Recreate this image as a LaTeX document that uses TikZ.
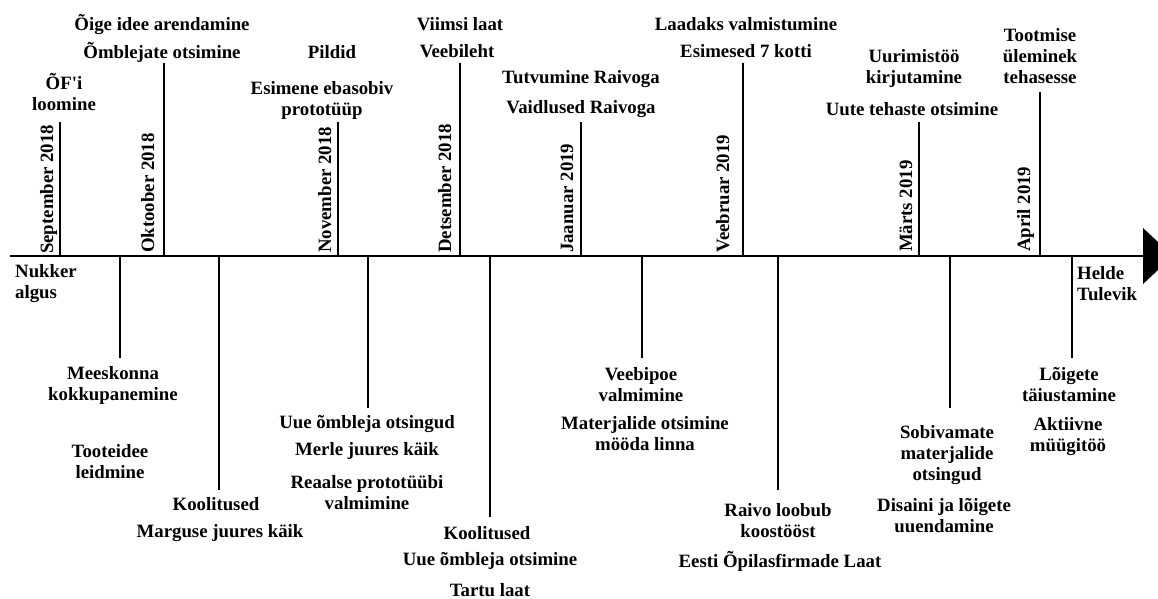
\documentclass[tikz,border=0pt]{standalone}
\usepackage{fontspec}
\setmainfont{Liberation Serif}
\begin{document}
\begin{tikzpicture}[x=1pt,y=-1pt,
  lbl/.style={font=\bfseries\fontsize{18.8}{21}\selectfont, align=center, inner sep=0pt},
  lbll/.style={font=\bfseries\fontsize{18.8}{21}\selectfont, align=left, inner sep=0pt, anchor=west},
  month/.style={font=\bfseries\fontsize{18.8}{21}\selectfont, rotate=90, anchor=base west, inner sep=0pt},
  tick/.style={line width=2pt},
  axisline/.style={line width=2pt}]
\useasboundingbox (0,0) rectangle (1158,599);
\clip (0,0) rectangle (1158,599);
\fill[white] (0,0) rectangle (1158,599);

% axis
\coordinate (a0) at (10,256);
\coordinate (a1) at (1145,256);
\draw[axisline] (a0) -- (a1);
\fill (1143,228) -- (1143,284) -- (1173,256) -- cycle;

% month ticks (up)
\foreach \n/\x/\t in {sep/60/122, okt/164/63, nov/338/122, dets/460/63, jaan/581/122, veeb/743/63, marts/919/122, apr/1040/92}{
  \coordinate (\n b) at (\x,256);
  \coordinate (\n t) at (\x,\t);
  \draw[tick] (\n b) -- (\n t);
}
% event ticks (down)
\foreach \n/\x/\t in {d1/120/358, d2/219/490, d3/368/408, d4/490/517, d5/642/358, d6/778/490, d7/950/408, d8/1072/358}{
  \coordinate (\n a) at (\x,256);
  \coordinate (\n e) at (\x,\t);
  \draw[tick] (\n a) -- (\n e);
}

% month labels
\node[month] (msep) at (53,254) {September 2018};
\node[month] (mokt) at (154,253) {Oktoober 2018};
\node[month] (mnov) at (331,253) {November 2018};
\node[month] (mdets) at (451,253) {Detsember 2018};
\node[month] (mjaan) at (573,253) {Jaanuar 2019};
\node[month] (mveeb) at (729,253) {Veebruar 2019};
\node[month] (mmarts) at (912,252) {Märts 2019};
\node[month] (mapr) at (1030,252) {April 2019};

% top labels
\node[lbl] (a1l) at (64,92) {ÕF\textquotesingle i\\loomine};
\node[lbl] (a2l) at (162,25) {Õige idee arendamine};
\node[lbl] (a3l) at (162,52) {Õmblejate otsimine};
\node[lbl] (a4l) at (332,52) {Pildid};
\node[lbl] (a5l) at (322,100) {Esimene ebasobiv\\prototüüp};
\node[lbl] (a6l) at (460,24) {Viimsi laat};
\node[lbl] (a7l) at (457,51) {Veebileht};
\node[lbl] (a8l) at (581,79) {Tutvumine Raivoga};
\node[lbl] (a9l) at (581,109) {Vaidlused Raivoga};
\node[lbl] (a10l) at (746,24) {Laadaks valmistumine};
\node[lbl] (a11l) at (746,51) {Esimesed 7 kotti};
\node[lbl] (a12l) at (914,68) {Uurimistöö\\kirjutamine};
\node[lbl] (a13l) at (912,109) {Uute tehaste otsimine};
\node[lbl] (a14l) at (1040,56) {Tootmise\\üleminek\\tehasesse};

% bottom labels
\node[lbll] (b1l) at (15,284) {Nukker\\algus};
\node[lbl] (b2l) at (113,385) {Meeskonna\\kokkupanemine};
\node[lbl] (b3l) at (110,462) {Tooteidee\\leidmine};
\node[lbl] (b4l) at (216,504) {Koolitused};
\node[lbl] (b5l) at (220,533) {Marguse juures käik};
\node[lbl] (b6l) at (367,424) {Uue õmbleja otsingud};
\node[lbl] (b7l) at (367,451) {Merle juures käik};
\node[lbl] (b8l) at (367,493) {Reaalse prototüübi\\valmimine};
\node[lbl] (b9l) at (487,533) {Koolitused};
\node[lbl] (b10l) at (490,561) {Uue õmbleja otsimine};
\node[lbl] (b11l) at (490,590) {Tartu laat};
\node[lbl] (b12l) at (641,385) {Veebipoe\\valmimine};
\node[lbl] (b13l) at (645,434) {Materjalide otsimine\\mööda linna};
\node[lbl] (b14l) at (778,521) {Raivo loobub\\koostööst};
\node[lbl] (b15l) at (780,561) {Eesti Õpilasfirmade Laat};
\node[lbl] (b16l) at (947,455) {Sobivamate\\materjalide\\otsingud};
\node[lbl] (b17l) at (944,516) {Disaini ja lõigete\\uuendamine};
\node[lbll] (b18l) at (1077,284) {Helde\\Tulevik};
\node[lbl] (b19l) at (1069,385) {Lõigete\\täiustamine};
\node[lbl] (b20l) at (1068,437) {Aktiivne\\müügitöö};
\end{tikzpicture}
\end{document}
